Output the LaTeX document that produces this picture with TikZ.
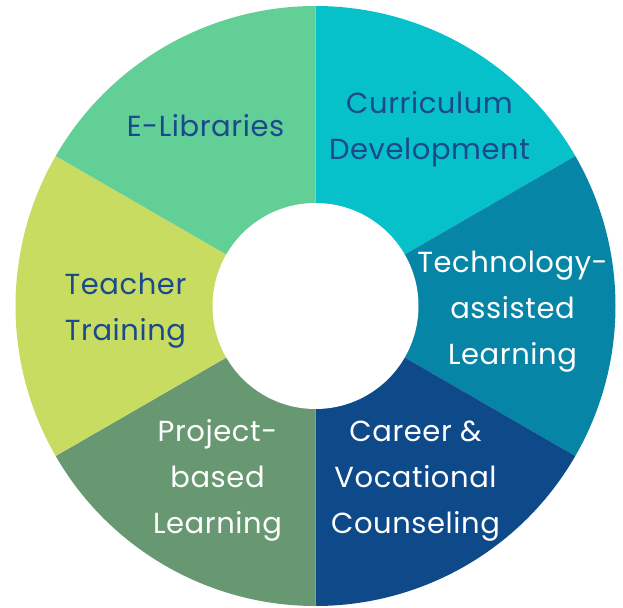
\documentclass[tikz,border=0pt]{standalone}
\usepackage{fontspec}
\setmainfont[LetterSpace=2]{Poppins}

\definecolor{elib}{HTML}{62CF96}
\definecolor{curr}{HTML}{07C1CA}
\definecolor{tech}{HTML}{0785A6}
\definecolor{care}{HTML}{0E4A89}
\definecolor{proj}{HTML}{679872}
\definecolor{teach}{HTML}{C8DC62}
\definecolor{darktext}{HTML}{1B4A8C}

\tikzset{
  lbl/.style={align=center, font=\fontsize{29}{46}\selectfont, inner sep=0pt},
  darklbl/.style={lbl, text=darktext},
  lightlbl/.style={lbl, text=white}
}

\begin{document}
\begin{tikzpicture}
            \useasboundingbox (-315.5pt,-301pt) rectangle (307.5pt,306pt);

            % Ring sectors
            \foreach \a/\c in {30/curr, -30/tech, -90/care, -150/proj, 150/teach, 90/elib}
              \fill[\c] (0pt,0pt) -- (\a:300pt) arc[start angle=\a, delta angle=60, radius=300pt] -- cycle;

            % Hole in the middle
            \fill[white] (0pt,0pt) circle[radius=103pt];

            % Labels
            \node[darklbl] (elibraries) at (-110pt,180pt) {E-Libraries};
            \node[darklbl] (curriculum) at (114pt,177pt) {Curriculum\\Development};
            \node[lightlbl] (technology) at (197pt,-6pt) {Technology-\\assisted\\Learning};
            \node[lightlbl] (career) at (100pt,-175pt) {Career \&\\Vocational\\Counseling};
            \node[lightlbl] (project) at (-98pt,-174pt) {Project-\\based\\Learning};
            \node[darklbl] (teacher) at (-190pt,-5pt) {Teacher\\Training};
\end{tikzpicture}
\end{document}
